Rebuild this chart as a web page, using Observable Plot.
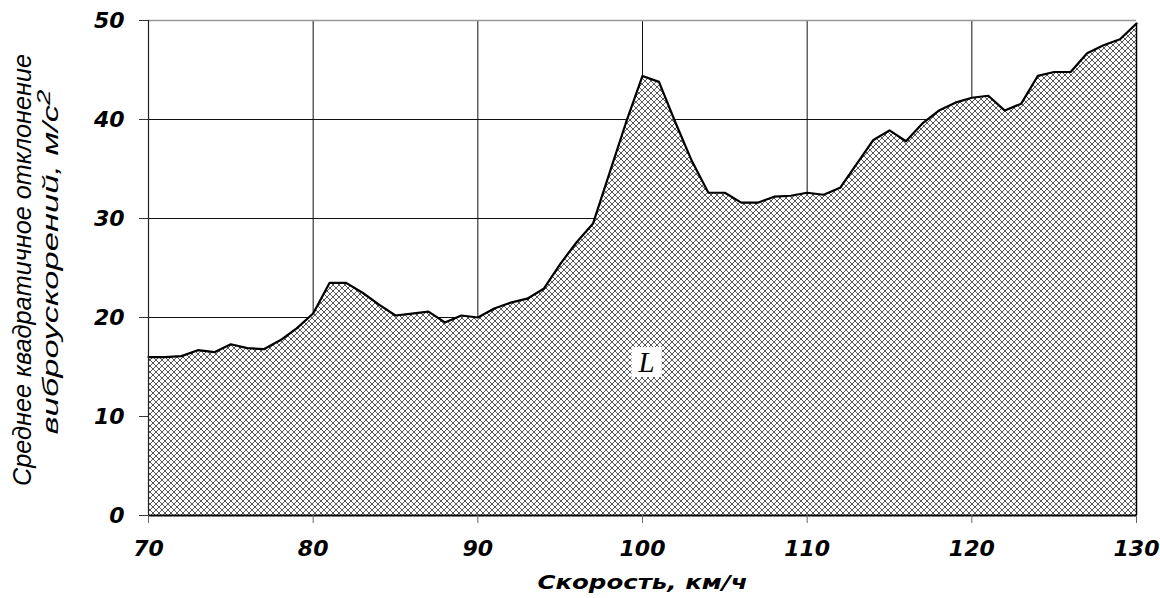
<!DOCTYPE html>
<html>
<head>
<meta charset="utf-8">
<script src="https://cdn.jsdelivr.net/npm/d3@7"></script>
<script src="https://cdn.jsdelivr.net/npm/@observablehq/plot@0.6"></script>
<style>
  html, body { margin: 0; padding: 0; background: #fff; }
</style>
</head>
<body>
<div id="chart"></div>
<script>
// Speed, km/h
const speeds = [70,71,72,73,74,75,76,77,78,79,80,81,82,83,84,85,86,87,88,89,90,
  91,92,93,94,95,96,97,98,99,100,101,102,103,104,105,106,107,108,109,110,
  111,112,113,114,115,116,117,118,119,120,121,122,123,124,125,126,127,128,129,130];
// RMS vibration acceleration, m/s^2
const rms = [16.0,16.0,16.1,16.7,16.5,17.3,16.9,16.8,17.7,18.9,20.4,23.5,23.5,22.5,21.3,20.2,20.4,20.6,19.5,20.2,20.0,
  20.9,21.5,21.9,22.9,25.4,27.6,29.5,34.6,39.7,44.4,43.8,39.7,35.8,32.6,32.6,31.6,31.6,32.2,32.3,32.6,
  32.4,33.1,35.5,37.9,38.9,37.8,39.6,40.9,41.7,42.2,42.4,40.9,41.6,44.4,44.8,44.8,46.7,47.5,48.1,49.7];

const xTicks = [70, 80, 90, 100, 110, 120, 130];
const yTicks = [0, 10, 20, 30, 40, 50];
const xGridLines = [80, 90, 100, 110, 120];
const yGridLines = [10, 20, 30, 40];

const xTitle = "Скорость, км/ч";
const yTitle1 = "Среднее квадратичное отклонение";
const yTitle2 = "виброускорений, м/с";
const yTitle2Sup = "2";
const areaLabel = [{x: 100.25, y: 15.5, text: "L"}];

const data = speeds.map((s, i) => ({speed: s, value: rms[i]}));
const last = data[data.length - 1];

const tickFont = "'DejaVu Sans', 'Liberation Sans', Arial, sans-serif";
const titleFont = "'Liberation Sans', Arial, sans-serif";

const svg = Plot.plot({
  width: 1160,
  height: 598,
  marginLeft: 148,
  marginRight: 24,
  marginTop: 20,
  marginBottom: 83,
  style: {fontFamily: tickFont, fontWeight: "bold", fontStyle: "italic", background: "#fff", overflow: "visible"},
  x: {domain: [70, 130]},
  y: {domain: [0, 50]},
  marks: [
    Plot.gridX(xGridLines, {stroke: "#111", strokeOpacity: 1, strokeWidth: 1}),
    Plot.gridY(yGridLines, {stroke: "#111", strokeOpacity: 1, strokeWidth: 1}),
    Plot.ruleY([50], {stroke: "#999", strokeWidth: 1.5}),
    Plot.areaY(data, {x: "speed", y: "value", fill: "url(#hatch)"}),
    Plot.lineY(data, {x: "speed", y: "value", stroke: "#000", strokeWidth: 2.2}),
    Plot.ruleX([last], {x: "speed", y1: 0, y2: "value", stroke: "#000", strokeWidth: 1.5}),
    Plot.ruleX([70], {stroke: "#222", strokeWidth: 1.2}),
    Plot.ruleY([0], {stroke: "#000", strokeWidth: 2}),
    Plot.dot(areaLabel, {x: "x", y: "y", symbol: "square", r: 17, fill: "#fff", stroke: null}),
    Plot.text(areaLabel, {x: "x", y: "y", text: "text", fontFamily: "'Liberation Serif', 'Times New Roman', serif",
      fontStyle: "italic", fontWeight: "normal", fontSize: 29, fill: "#000", dy: 1}),
    Plot.axisX({ticks: xTicks, tickSize: 8, tickPadding: 17, fontSize: 22, stroke: "#666", label: null, tickFormat: d => String(d)}),
    Plot.axisY({ticks: yTicks, tickSize: 9, tickPadding: 15, fontSize: 22, stroke: "#333", label: null, tickFormat: d => String(d)}),
    Plot.text([xTitle], {text: d => d, frameAnchor: "bottom", dy: 73, fontSize: 20, fill: "#000", className: "xtitle"}),
    Plot.text([yTitle1], {text: d => d, frameAnchor: "left", textAnchor: "middle", rotate: -90, dx: -126, dy: 2,
      fontFamily: titleFont, fontWeight: "normal", fontStyle: "italic", fontSize: 25, fill: "#000", className: "ytitle1"}),
    Plot.text([yTitle2], {text: d => d, frameAnchor: "left", textAnchor: "middle", rotate: -90, dx: -98, dy: -6,
      fontFamily: titleFont, fontWeight: "normal", fontStyle: "italic", fontSize: 22, fill: "#000", className: "ytitle2"})
  ]
});

// hatch pattern definition
d3.select(svg).insert("defs", ":first-child").html(
  '<pattern id="hatch" patternUnits="userSpaceOnUse" width="6" height="6">' +
  '<rect width="6" height="6" fill="#fff"/>' +
  '<path d="M0,0L6,6M6,0L0,6M-1,5L1,7M5,-1L7,1M5,7L7,5M-1,1L1,-1" stroke="#111" stroke-width="0.7" fill="none"/>' +
  '</pattern>'
);

// stretch the titles to their reference lengths
d3.select(svg).selectAll(".xtitle text")
  .attr("textLength", 210).attr("lengthAdjust", "spacingAndGlyphs");
d3.select(svg).selectAll(".ytitle1 text")
  .attr("textLength", 432).attr("lengthAdjust", "spacingAndGlyphs");

// superscript 2 on the second y-title line
d3.select(svg).selectAll(".ytitle2 text").each(function() {
  const t = d3.select(this);
  t.append("tspan").attr("dy", "-0.45em").attr("font-size", "0.8em").text(yTitle2Sup);
  t.attr("textLength", 345).attr("lengthAdjust", "spacingAndGlyphs");
});

document.getElementById("chart").appendChild(svg);
</script>
</body>
</html>
